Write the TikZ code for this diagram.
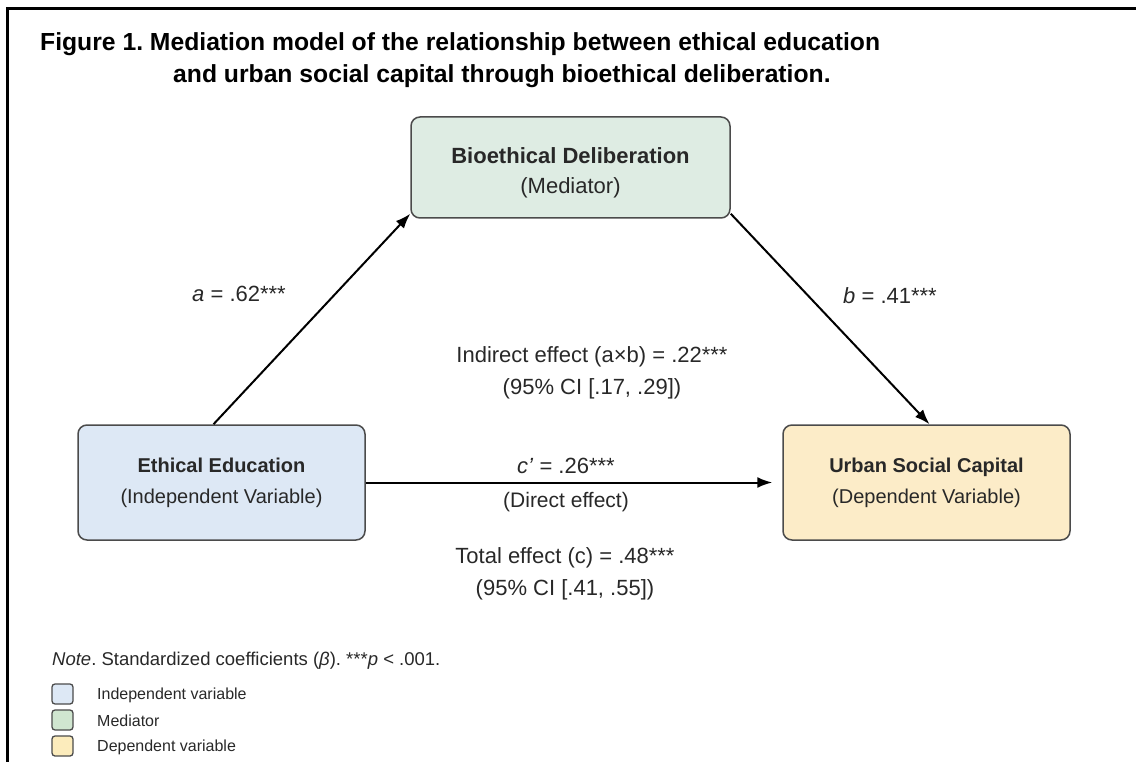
\documentclass[tikz,border=0pt]{standalone}
\usepackage{fontspec}
\setmainfont{Liberation Sans}
\usetikzlibrary{arrows.meta}
\frenchspacing
\definecolor{ivblue}{RGB}{221,232,245}
\definecolor{medgreen}{RGB}{222,236,227}
\definecolor{dvyellow}{RGB}{252,236,200}
\definecolor{leggreen}{RGB}{208,230,208}
\definecolor{legyellow}{RGB}{252,236,188}
\definecolor{edgegray}{RGB}{75,75,75}
\definecolor{inkgray}{RGB}{40,40,40}
\tikzset{
  varbox/.style={draw=edgegray, line width=1.5pt, rounded corners=9pt, align=center,
    minimum width=287pt, minimum height=115pt, inner sep=0pt, text=inkgray,
    font=\fontsize{20}{31}\selectfont},
  pathlabel/.style={align=center, text=inkgray, font=\fontsize{22}{32}\selectfont},
  effect/.style={-{Latex[length=15pt,width=11pt]}, line width=2pt},
  legkey/.style={draw=edgegray, line width=1.3pt, rounded corners=3pt,
    minimum width=21pt, minimum height=20pt, inner sep=0pt},
  legtext/.style={anchor=west, inner sep=0pt, text=inkgray, font=\fontsize{16}{16}\selectfont}
}
\begin{document}
\begin{tikzpicture}[x=1pt,y=-1pt]
\useasboundingbox (0,0) rectangle (1136,762);
\draw[line width=3pt] (1136,9) -- (7,9) -- (7,762);
\node[anchor=west, inner sep=0pt, font=\fontsize{24.7}{24.7}\selectfont\bfseries] (titleA) at (40,44)
  {Figure 1. Mediation model of the relationship between ethical education};
\node[anchor=west, inner sep=0pt, font=\fontsize{24.7}{24.7}\selectfont\bfseries] (titleB) at (173,76)
  {and urban social capital through bioethical deliberation.};
% the three variables
\node[varbox, fill=medgreen, minimum width=319pt, minimum height=101pt,
  font=\fontsize{22}{30}\selectfont] (med) at (570.5,167.5)
  {\rule{0pt}{27pt}\textbf{Bioethical Deliberation}\\(Mediator)};
\node[varbox, fill=ivblue] (iv) at (221.5,482.5)
  {\textbf{Ethical Education}\\(Independent Variable)};
\node[varbox, fill=dvyellow] (dv) at (926.5,482.5)
  {\textbf{Urban Social Capital}\\(Dependent Variable)};
% paths
\draw[effect] ([xshift=-8pt]iv.north) -- ([yshift=5pt]med.south west);
\draw[effect] ([yshift=5pt]med.south east) -- ([xshift=3pt]dv.north);
\draw[effect, shorten >=10pt] (iv.east) -- (dv.west);
\node[pathlabel] (alabel) at (239,294) {\textit{a} = .62***};
\node[pathlabel] (blabel) at (890,296) {\textit{b} = .41***};
\node[pathlabel] (indirect) at (592,373) {Indirect effect (a×b) = .22***\\(95\% CI [.17, .29])};
\node[pathlabel] (direct) at (566,466) {\textit{c’} = .26***};
\node[pathlabel, font=\fontsize{21}{21}\selectfont] (directnote) at (566,502) {(Direct effect)};
\node[pathlabel] (total) at (565,574) {Total effect (c) = .48***\\(95\% CI [.41, .55])};
% note and legend
\node[anchor=west, inner sep=0pt, text=inkgray, font=\fontsize{18.5}{18.5}\selectfont] (note) at (52,661)
  {\textit{Note}. Standardized coefficients (\textit{β}). ***\textit{p} < .001.};
\node[legkey, fill=ivblue] (keyiv) at (62.5,694) {};
\node[legkey, fill=leggreen] (keymed) at (62.5,720) {};
\node[legkey, fill=legyellow] (keydv) at (62.5,746) {};
\node[legtext] (textiv) at (97,695) {Independent variable};
\node[legtext] (textmed) at (97,721) {Mediator};
\node[legtext] (textdv) at (97,747) {Dependent variable};
\end{tikzpicture}
\end{document}
